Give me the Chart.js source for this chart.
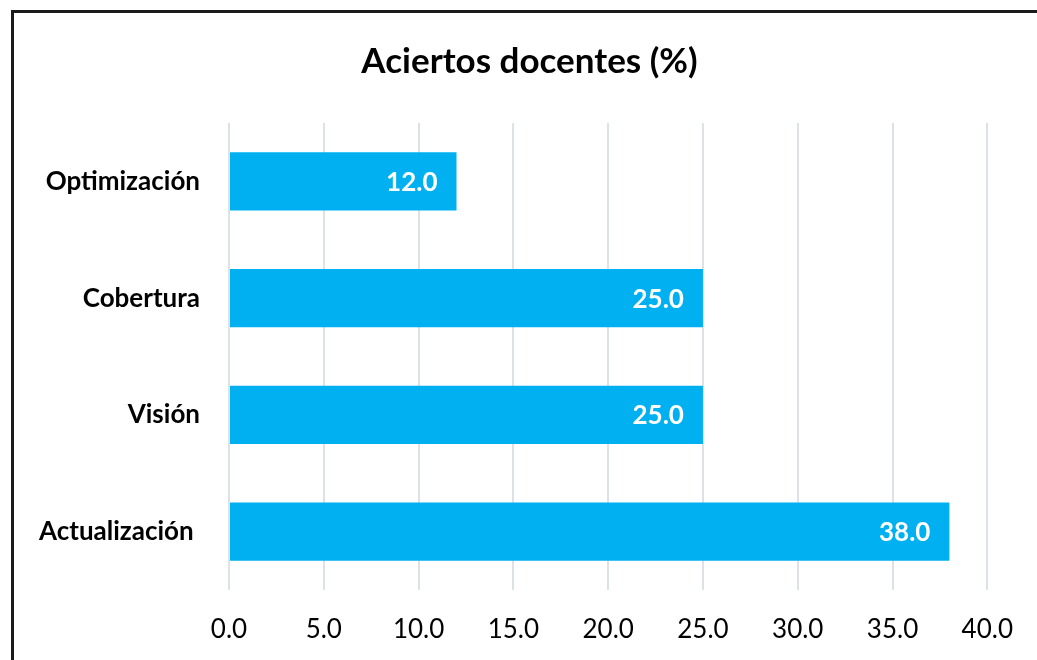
<!DOCTYPE html>
<html>
<head>
<meta charset="utf-8">
<script src="https://cdn.jsdelivr.net/npm/chart.js@4"></script>
<style>
    body { margin: 0; background: #fff; overflow: hidden; }
    #wrap { position: relative; width: 1037px; height: 660px; }
    #frame {
        position: absolute; left: 11px; top: 10px; width: 1100px; height: 700px;
        border-left: 3px solid #1a1a1a; border-top: 3px solid #1a1a1a;
        box-sizing: border-box; pointer-events: none;
    }
</style>
</head>
<body>
<div id="wrap">
    <canvas id="aciertosChart" width="1037" height="660"></canvas>
    <div id="frame"></div>
</div>
<script>
const categories = ["Optimización", "Cobertura", "Visión", "Actualización "];
const aciertos = [12.0, 25.0, 25.0, 38.0];
const xTicks = [0, 5, 10, 15, 20, 25, 30, 35, 40];
const chartTitle = "Aciertos docentes (%)";

const FONT = "Lato, 'Open Sans', sans-serif";

// Title centred on the framed box (the frame starts 11px in)
const frameTitle = {
    id: "frameTitle",
    afterDraw(chart) {
        const ctx = chart.ctx;
        ctx.save();
        ctx.fillStyle = "#000";
        ctx.font = "bold 35px " + FONT;
        ctx.textAlign = "center";
        ctx.textBaseline = "middle";
        ctx.fillText(chartTitle, chart.width / 2 + 11, 62);
        ctx.restore();
    },
};

// Value labels inside the bar end (no datalabels plugin available)
const valueLabels = {
    id: "valueLabels",
    afterDatasetsDraw(chart) {
        const ctx = chart.ctx;
        const meta = chart.getDatasetMeta(0);
        ctx.save();
        ctx.fillStyle = "#ffffff";
        ctx.font = "bold 26px " + FONT;
        ctx.textAlign = "right";
        ctx.textBaseline = "middle";
        meta.data.forEach((bar, i) => {
            ctx.fillText(aciertos[i].toFixed(1), bar.x - 19, bar.y + 1);
        });
        ctx.restore();
    },
};

const ctx = document.getElementById("aciertosChart").getContext("2d");
new Chart(ctx, {
    type: "bar",
    data: {
        labels: categories,
        datasets: [
            {
                data: aciertos,
                backgroundColor: "#00B0F0",
                borderWidth: 0,
                categoryPercentage: 1,
                barPercentage: 0.5,
            },
        ],
    },
    options: {
        indexAxis: "y",
        responsive: false,
        animation: false,
        layout: {
            padding: { left: 0, right: 49, top: 123, bottom: 0 },
        },
        plugins: {
            legend: { display: false },
            tooltip: { enabled: false },
            title: { display: false },
        },
        scales: {
            x: {
                min: 0,
                max: 40,
                afterBuildTicks: (scale) => {
                    scale.ticks = xTicks.map((v) => ({ value: v }));
                },
                afterFit: (scale) => {
                    scale.height = 70;
                },
                ticks: {
                    color: "#000",
                    font: { family: FONT, size: 26 },
                    padding: 24,
                    callback: (v) => Number(v).toFixed(1),
                },
                grid: { color: "#DDE2E8", lineWidth: 2, drawTicks: false },
                border: { display: false },
            },
            y: {
                afterFit: (scale) => {
                    scale.width = 229;
                },
                ticks: {
                    color: "#000",
                    font: { family: FONT, size: 26, weight: "bold" },
                    padding: 29,
                },
                grid: { display: false, drawTicks: false },
                border: { display: false },
            },
        },
    },
    plugins: [valueLabels, frameTitle],
});
</script>
</body>
</html>
